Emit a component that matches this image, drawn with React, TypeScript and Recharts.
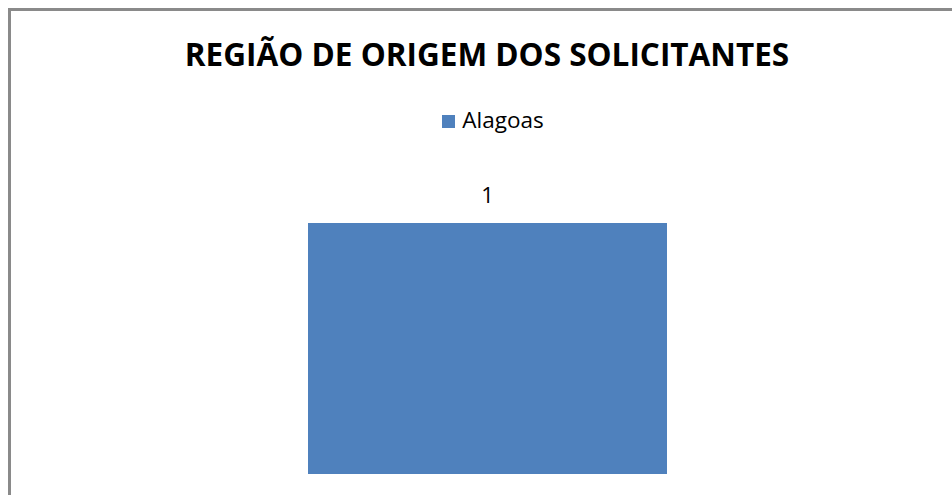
import { Bar, BarChart, LabelList, Legend, XAxis, YAxis } from 'recharts';

const categories = ['Alagoas'];
const seriesName = 'Alagoas';
const seriesValues = [1];
const chartTitle = 'REGIÃO DE ORIGEM DOS SOLICITANTES';

const data = categories.map((c, i) => ({ region: c, value: seriesValues[i] }));

const FONT = '"Open Sans", "Liberation Sans", sans-serif';

export default function App() {
    return (
        <div
            style={{
                position: 'fixed',
                left: 0,
                top: 0,
                width: 952,
                height: 495,
                overflow: 'hidden',
                background: '#fff',
                fontFamily: FONT,
            }}
        >
            <div
                style={{
                    position: 'absolute',
                    left: 8,
                    top: 8,
                    width: 1000,
                    height: 600,
                    border: '3px solid #8a8a8a',
                }}
            />
            <div
                style={{
                    position: 'absolute',
                    left: 0,
                    top: 35,
                    width: 974,
                    textAlign: 'center',
                    fontSize: 31.5,
                    fontWeight: 700,
                    color: '#000',
                    lineHeight: '38px',
                }}
            >
                {chartTitle}
            </div>
            <BarChart
                width={952}
                height={495}
                data={data}
                margin={{ top: 192, right: 16, left: 39, bottom: 21 }}
                style={{ position: 'absolute', left: 0, top: 0 }}
            >
                <XAxis dataKey="region" hide />
                <YAxis hide domain={[0, 1]} />
                <Legend
                    verticalAlign="top"
                    iconType="square"
                    iconSize={13}
                    wrapperStyle={{
                        top: 104,
                        left: 0,
                        width: 996,
                        fontSize: 22.5,
                        fontFamily: FONT,
                    }}
                    formatter={(v) => (
                        <span style={{ color: '#000', marginLeft: 3 }}>{v}</span>
                    )}
                />
                <Bar
                    dataKey="value"
                    name={seriesName}
                    fill="#4F81BD"
                    barSize={359}
                    isAnimationActive={false}
                >
                    <LabelList
                        dataKey="value"
                        position="top"
                        offset={20}
                        fill="#000"
                        fontSize={22}
                        fontFamily={FONT}
                    />
                </Bar>
            </BarChart>
        </div>
    );
}
